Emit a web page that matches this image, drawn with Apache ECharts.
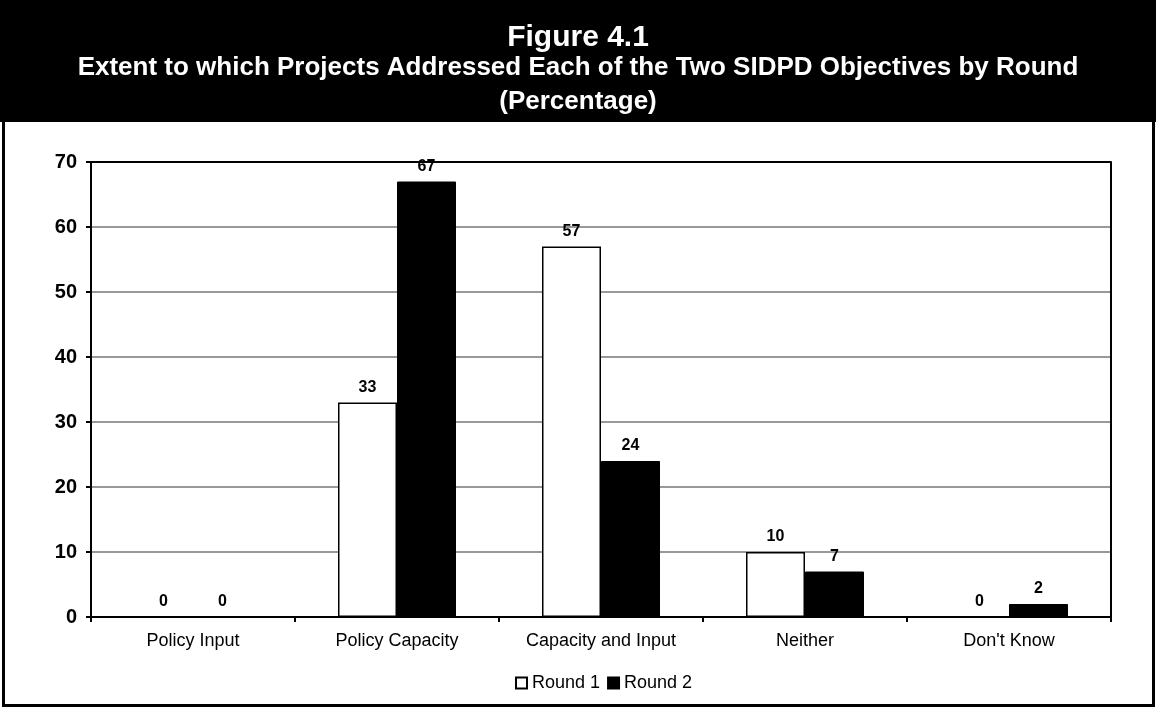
<!DOCTYPE html>
<html>
<head>
<meta charset="utf-8">
<script src="https://cdn.jsdelivr.net/npm/echarts@6/dist/echarts.min.js"></script>
<style>
  html, body { margin: 0; padding: 0; background: #fff; }
  #chart { width: 1156px; height: 707px; }
</style>
</head>
<body>
<div id="chart"></div>
<script>
const categories = ['Policy Input', 'Policy Capacity', 'Capacity and Input', 'Neither', "Don't Know"];
const round1 = [0, 33, 57, 10, 0];
const round2 = [0, 67, 24, 7, 2];
const yTicks = { min: 0, max: 70, interval: 10 };

const FONT = "'Liberation Sans', Arial, sans-serif";

const myChart = echarts.init(document.getElementById('chart'));

const barLabel = {
  show: true,
  position: 'top',
  distance: 7,
  color: '#000',
  fontFamily: FONT,
  fontWeight: 'bold',
  fontSize: 16
};

const options = {
  animation: false,
  backgroundColor: '#fff',
  textStyle: { fontFamily: FONT },
  graphic: [
    // black title band
    { type: 'rect', z: -10, shape: { x: 0, y: 0, width: 1156, height: 122 }, style: { fill: '#000' } },
    // outer frame
    { type: 'rect', z: -10, shape: { x: 3.5, y: 0, width: 1150, height: 705.5 }, style: { fill: 'none', stroke: '#000', lineWidth: 3 } }
  ],
  title: [
    { text: 'Figure 4.1', left: 'center', top: 18,
      textStyle: { color: '#fff', fontFamily: FONT, fontWeight: 'bold', fontSize: 30 } },
    { text: 'Extent to which Projects Addressed Each of the Two SIDPD Objectives by Round', left: 'center', top: 50,
      textStyle: { color: '#fff', fontFamily: FONT, fontWeight: 'bold', fontSize: 26 } },
    { text: '(Percentage)', left: 'center', top: 84,
      textStyle: { color: '#fff', fontFamily: FONT, fontWeight: 'bold', fontSize: 26 } }
  ],
  legend: {
    left: 515,
    top: 674,
    padding: 0,
    itemWidth: 11,
    itemHeight: 11,
    itemGap: 7,
    icon: 'rect',
    textStyle: { color: '#000', fontFamily: FONT, fontSize: 18 },
    data: ['Round 1', 'Round 2']
  },
  grid: { left: 91, right: 45, top: 162, bottom: 90, containLabel: false },
  xAxis: {
    type: 'category',
    data: categories,
    axisLine: { lineStyle: { color: '#000', width: 2 } },
    axisTick: { show: true, length: 5, lineStyle: { color: '#000', width: 2 } },
    axisLabel: { color: '#000', fontFamily: FONT, fontSize: 18, margin: 15 }
  },
  yAxis: [
    {
      type: 'value',
      min: yTicks.min,
      max: yTicks.max,
      interval: yTicks.interval,
      axisLine: { show: true, lineStyle: { color: '#000', width: 2 } },
      axisTick: { show: true, length: 5, lineStyle: { color: '#000', width: 2 } },
      axisLabel: { color: '#000', fontFamily: FONT, fontWeight: 'bold', fontSize: 20, margin: 14 },
      splitLine: {
        show: true,
        lineStyle: { color: ['#999', '#999', '#999', '#999', '#999', '#999', '#999', '#000'], width: 2 }
      }
    },
    {
      type: 'value',
      position: 'right',
      min: yTicks.min,
      max: yTicks.max,
      interval: yTicks.interval,
      axisLine: { show: true, lineStyle: { color: '#000', width: 2 } },
      axisTick: { show: false },
      axisLabel: { show: false },
      splitLine: { show: false }
    }
  ],
  series: [
    {
      name: 'Round 1',
      type: 'bar',
      data: round1,
      barWidth: 59,
      barGap: '0%',
      itemStyle: { color: '#fff', borderColor: '#000', borderWidth: 1.5 },
      label: barLabel
    },
    {
      name: 'Round 2',
      type: 'bar',
      data: round2,
      barWidth: 59,
      barGap: '0%',
      itemStyle: { color: '#000', borderColor: '#000', borderWidth: 1 },
      label: barLabel
    }
  ]
};

myChart.setOption(options);
window.addEventListener('resize', () => {
  myChart.resize();
});
</script>
</body>
</html>
